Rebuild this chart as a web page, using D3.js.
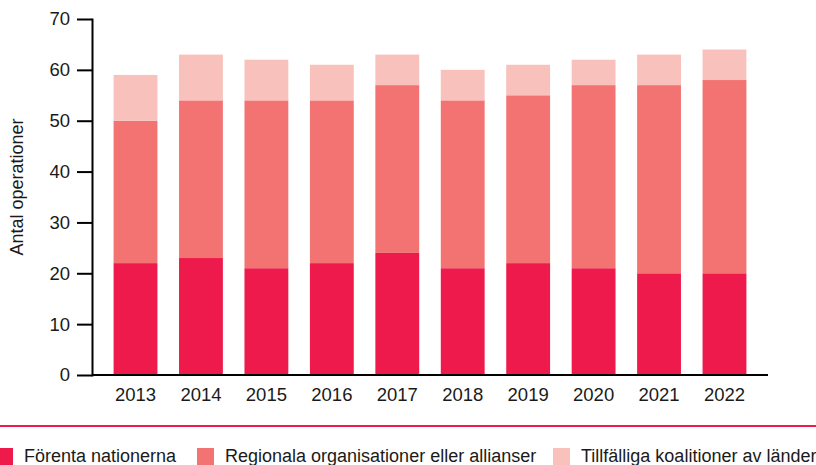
<!DOCTYPE html>
<html>
<head>
<meta charset="utf-8">
<script src="https://cdn.jsdelivr.net/npm/d3@7"></script>
<style>
    body { margin: 0; background: #fff; }
    svg { display: block; font-family: "Liberation Sans", Arial, sans-serif; }
    .axis path, .axis line { stroke: #000; stroke-width: 2; }
    .axis text { font-size: 18.5px; fill: #1a1a1a; }
</style>
</head>
<body>
<div id="chart"></div>
<script>
const years = ['2013', '2014', '2015', '2016', '2017', '2018', '2019', '2020', '2021', '2022'];
const forentaNationerna = [22, 23, 21, 22, 24, 21, 22, 21, 20, 20];
const regionala = [28, 31, 33, 32, 33, 33, 33, 36, 37, 38];
const tillfalliga = [9, 9, 8, 7, 6, 6, 6, 5, 6, 6];
const yTicks = [0, 10, 20, 30, 40, 50, 60, 70];
const seriesNames = ['Förenta nationerna', 'Regionala organisationer eller allianser', 'Tillfälliga koalitioner av länder'];
const colors = ['#ee1a4b', '#f27372', '#f9c1bb'];

const width = 816, height = 465;
const plot = {left: 92, right: 768, top: 19, bottom: 375};

const rows = years.map((y, i) => ({
    year: y,
    un: forentaNationerna[i],
    reg: regionala[i],
    tmp: tillfalliga[i]
}));
const stack = d3.stack().keys(['un', 'reg', 'tmp'])(rows);

const svg = d3.select('#chart')
    .append('svg')
    .attr('width', width)
    .attr('height', height);

const x = d3.scaleBand()
    .domain(years)
    .range([plot.left, plot.right])
    .paddingInner(0.33)
    .paddingOuter(0.33);
const y = d3.scaleLinear()
    .domain([0, 70])
    .range([plot.bottom, plot.top]);

// bars
svg.append('g')
    .selectAll('g')
    .data(stack)
    .join('g')
    .attr('fill', (d, i) => colors[i])
    .selectAll('rect')
    .data(d => d)
    .join('rect')
    .attr('x', d => x(d.data.year))
    .attr('width', x.bandwidth())
    .attr('y', d => y(d[1]))
    .attr('height', d => y(d[0]) - y(d[1]));

// y axis
svg.append('g')
    .attr('class', 'axis y-axis')
    .attr('transform', `translate(${plot.left}, 0)`)
    .call(d3.axisLeft(y).tickValues(yTicks).tickSize(15).tickSizeOuter(0).tickPadding(7))
    .call(g => g.select('.domain').attr('stroke-linecap', 'square'));

// x axis
svg.append('g')
    .attr('class', 'axis x-axis')
    .attr('transform', `translate(0, ${plot.bottom})`)
    .call(d3.axisBottom(x).tickSize(0).tickPadding(13))
    .call(g => g.select('.domain').attr('d', `M${plot.left},0H${plot.right}`));

svg.append('text')
    .attr('transform', `translate(23, ${(plot.top + plot.bottom) / 2 - 10}) rotate(-90)`)
    .attr('text-anchor', 'middle')
    .attr('font-size', 18)
    .attr('fill', '#1a1a1a')
    .text('Antal operationer');

// separator line
svg.append('line')
    .attr('x1', 0).attr('x2', width)
    .attr('y1', 426).attr('y2', 426)
    .attr('stroke', colors[0])
    .attr('stroke-width', 2);

// legend
const legendX = [-4, 197, 553];
const legend = svg.append('g')
    .selectAll('g')
    .data(seriesNames)
    .join('g')
    .attr('transform', (d, i) => `translate(${legendX[i]}, 448)`);
legend.append('rect')
    .attr('width', 17)
    .attr('height', 17)
    .attr('fill', (d, i) => colors[i]);
legend.append('text')
    .attr('x', 28)
    .attr('y', 14)
    .attr('font-size', 18)
    .attr('fill', '#1a1a1a')
    .text(d => d);
</script>
</body>
</html>
